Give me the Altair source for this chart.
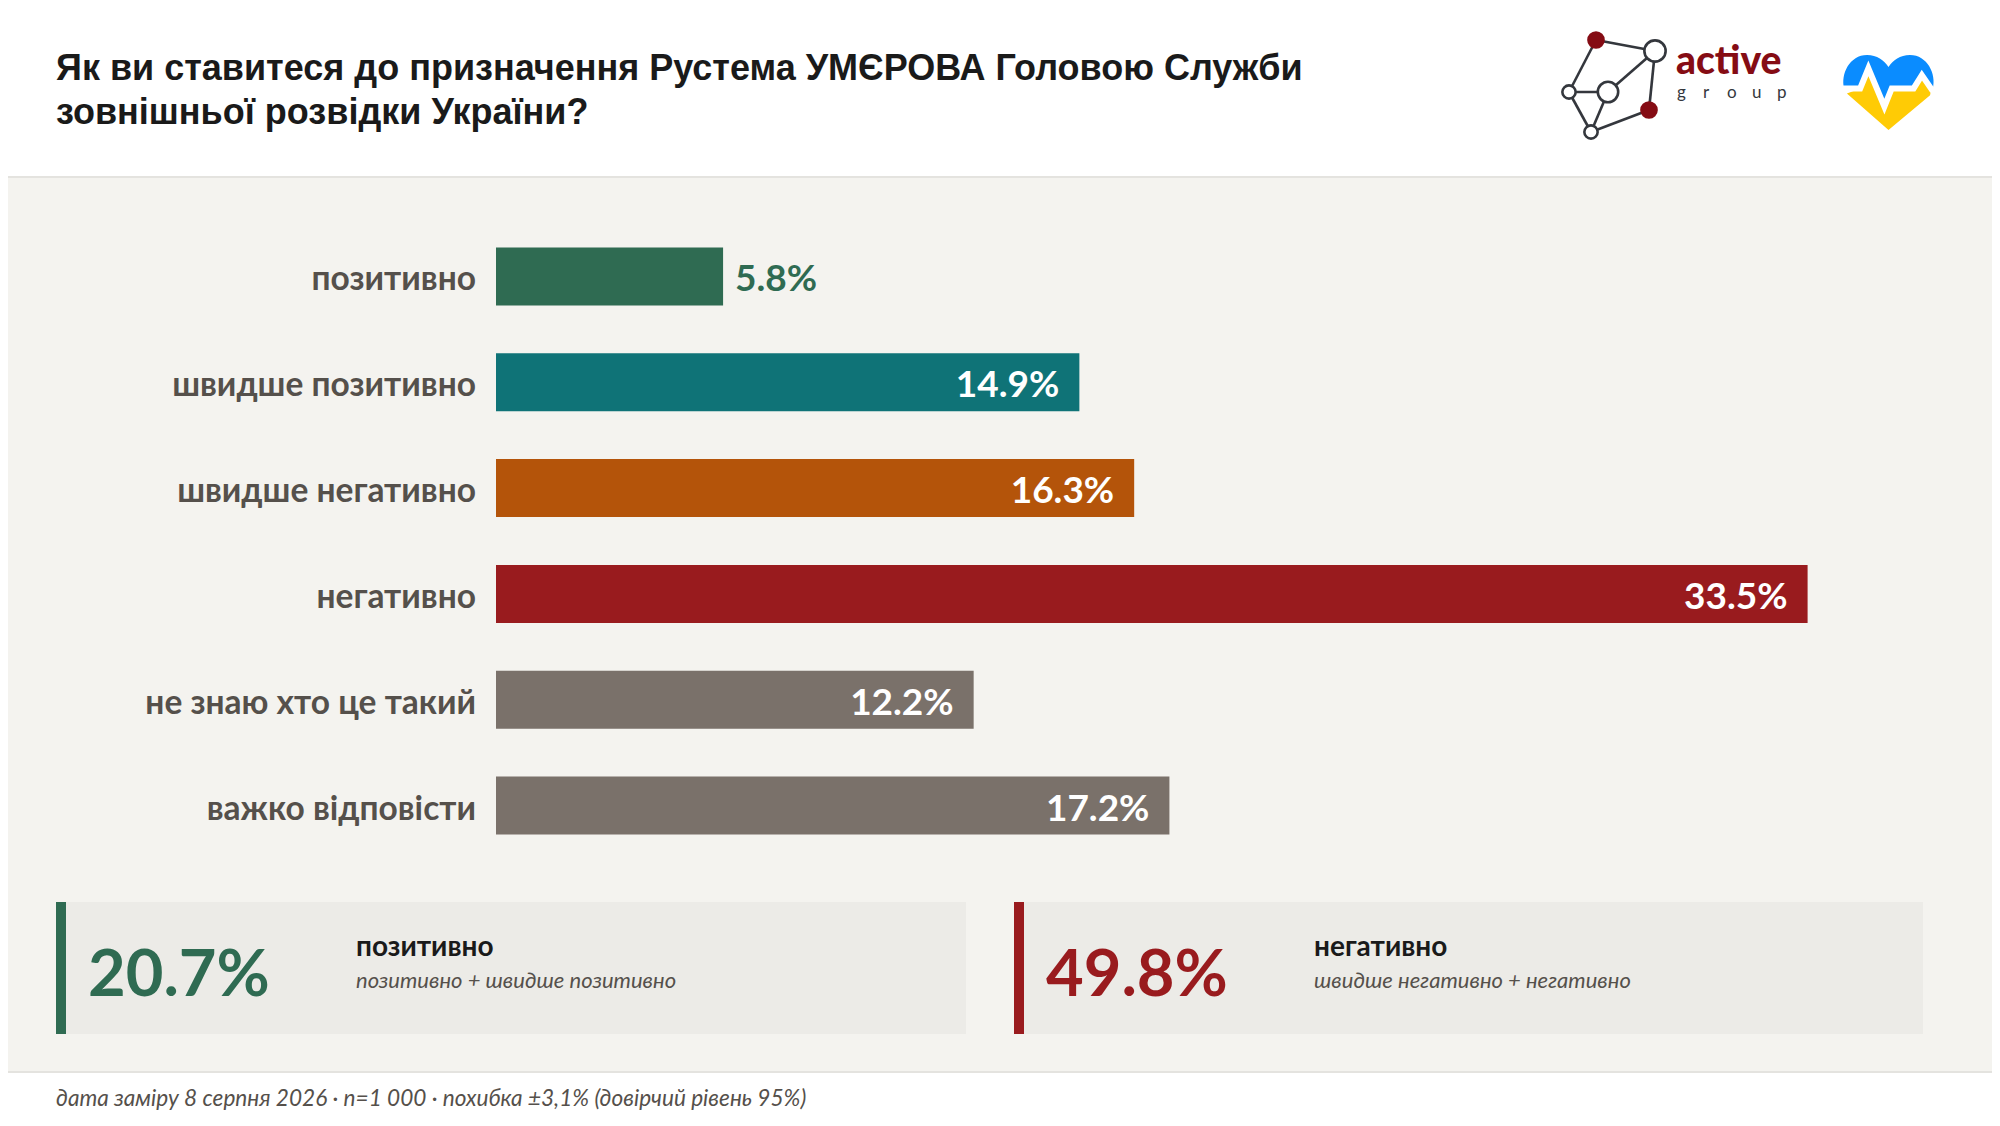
import altair as alt
import pandas as pd

TITLE_LINES = ["Як ви ставитеся до призначення Рустема УМЄРОВА Головою Служби", "зовнішньої розвідки України?"]
CATEGORIES = ["позитивно", "швидше позитивно", "швидше негативно", "негативно", "не знаю хто це такий", "важко відповісти"]
VALUES = [5.8, 14.9, 16.3, 33.5, 12.2, 17.2]
BAR_COLORS = ["#2f6b52", "#0f7377", "#b4540a", "#991b1e", "#7a716a", "#7a716a"]
SUMMARY_VALUES = ["20.7%", "49.8%"]
SUMMARY_HEADS = ["позитивно", "негативно"]
SUMMARY_SUBS = ["позитивно + швидше позитивно", "швидше негативно + негативно"]
FOOTNOTE = "дата заміру 8 серпня 2026 · n=1 000 · похибка ±3,1% (довірчий рівень 95%)"

OX, OY = 8, 8  # page margin
SANS = "Lato"


def px(v):
    return alt.value(v - OX)


def py(v):
    return alt.value(v - OY)


def rect(x0, x1, y0, y1, color):
    return alt.Chart().mark_rect(color=color).encode(x=px(x0), x2=px(x1), y=py(y0), y2=py(y1))


def text(s, x, y, size, color, font=SANS, weight="normal", style="normal", align="left"):
    return alt.Chart().mark_text(
        font=font, fontSize=size, fontWeight=weight, fontStyle=style, color=color,
        align=align, baseline="alphabetic",
    ).encode(x=px(x), y=py(y), text=alt.value(s))


def edge(a, b):
    return alt.Chart().mark_rule(color="#34373d", strokeWidth=2.6).encode(
        x=px(a[0]), x2=px(b[0]), y=py(a[1]), y2=py(b[1]))


def node(p, r, fill):
    return alt.Chart().mark_point(
        filled=True, shape="circle", fill=fill, size=3.1416 * r * r,
        stroke="#34373d" if fill == "#ffffff" else fill, strokeWidth=2.6, opacity=1,
    ).encode(x=px(p[0]), y=py(p[1]))


def sym(path, size, cx, cy, **kw):
    return alt.Chart().mark_point(shape=path, size=size, opacity=1, **kw).encode(x=px(cx), y=py(cy))


layers = [
    rect(8, 1992, 176, 1071, "#f4f3ef"),
    rect(8, 1992, 176, 178, "#e4e3df"),
    rect(8, 1992, 1071, 1073, "#e4e3df"),
    text(TITLE_LINES[0], 56, 80, 36, "#1a1a1a", font="Liberation Sans", weight="bold"),
    text(TITLE_LINES[1], 56, 124, 36, "#1a1a1a", font="Liberation Sans", weight="bold"),
]

# logo
A, B, C, D, E, F = (1596, 40), (1655, 51), (1569, 92), (1608, 92), (1649, 110), (1591, 132)
for a, b in [(A, B), (A, C), (B, D), (B, E), (C, D), (C, F), (D, F), (E, F)]:
    layers.append(edge(a, b))
for p, r, fill in [(A, 8.5, "#850c14"), (B, 12, "#ffffff"), (C, 7.5, "#ffffff"), (D, 11.5, "#ffffff"),
                   (E, 8.5, "#850c14"), (F, 7.5, "#ffffff")]:
    layers.append(node(p, r, fill))
layers.append(text("active", 1676, 74, 39, "#850c14", weight=900))
for ch, lx in zip("group", [1677, 1703, 1727, 1752, 1777]):
    layers.append(text(ch, lx, 98, 17, "#34373d"))

# heart
HEART_TOP = ("M-0.97,-0.09 C-1.05,-0.4 -0.85,-0.82 -0.47,-0.82 C-0.25,-0.82 -0.1,-0.7 0,-0.56 "
             "C0.1,-0.7 0.25,-0.82 0.47,-0.82 C0.85,-0.82 1.05,-0.4 0.97,-0.09 L0.95,-0.09 L0.73,-0.38 "
             "L0.55,-0.09 L0.07,-0.09 L-0.09,0.31 L-0.44,-0.53 L-0.62,-0.09 Z")
HEART_BOTTOM = ("M-0.91,0.02 L-0.62,-0.09 L-0.44,-0.53 L-0.09,0.31 L0.07,-0.09 L0.55,-0.09 L0.73,-0.38 "
                "L0.93,-0.05 L0.91,0.06 L0,0.82 Z")
PULSE = "M-1,-0.09 L-0.62,-0.09 L-0.44,-0.53 L-0.09,0.31 L0.07,-0.09 L0.55,-0.09 L0.73,-0.38 L0.97,-0.03"
H_SIZE = 91.4 ** 2
layers += [
    sym(HEART_TOP, H_SIZE, 1888.5, 92.5, filled=True, fill="#0a8cff", strokeWidth=0),
    sym(HEART_BOTTOM, H_SIZE, 1888.5, 92.5, filled=True, fill="#ffcb05", strokeWidth=0),
    sym(PULSE, H_SIZE, 1888.5, 92.5, filled=False, stroke="#ffffff", strokeWidth=6, fill="transparent"),
]

# bars
df = pd.DataFrame({"cat": CATEGORIES, "value": VALUES, "color": BAR_COLORS})
df["label"] = [f"{v:.1f}%" for v in VALUES]
y = alt.Y("cat:N", sort=CATEGORIES, axis=None,
          scale=alt.Scale(domain=CATEGORIES, range=[239.5, 826.5], paddingInner=0.452, paddingOuter=0))
x = alt.X("value:Q", axis=None, scale=alt.Scale(domain=[0, 33.5], range=[488, 1799.6]))

bars = alt.Chart(df).mark_bar(cornerRadius=0).encode(
    x=x, y=y, color=alt.Color("color:N", scale=None, legend=None))
cat_labels = alt.Chart(df).mark_text(
    font=SANS, fontWeight="bold", fontSize=33.5, color="#55504b", align="right", baseline="middle", dy=4,
).encode(x=px(476), y=y, text="cat:N")
outside = alt.Chart(df[df["value"] < 10]).mark_text(
    font=SANS, fontWeight="bold", fontSize=37, color="#2f6b52", align="left", baseline="middle", dx=12, dy=4,
).encode(x=x, y=y, text="label:N")
inside = alt.Chart(df[df["value"] >= 10]).mark_text(
    font=SANS, fontWeight="bold", fontSize=37, color="#ffffff", align="right", baseline="middle", dx=-20, dy=4,
).encode(x=x, y=y, text="label:N")
layers += [bars, cat_labels, outside, inside]

# summary boxes
for i, (x0, x1, col) in enumerate([(56, 966, "#2f6b52"), (1014, 1923, "#991b1e")]):
    layers += [
        rect(x0, x1, 902, 1034, "#ecebe7"),
        rect(x0, x0 + 10, 902, 1034, col),
        text(SUMMARY_VALUES[i], x0 + 32, 996, 65, col, weight="bold"),
        text(SUMMARY_HEADS[i], x0 + 300, 956, 28, "#1a1a1a", weight="bold"),
        text(SUMMARY_SUBS[i], x0 + 300, 988, 22, "#55504b", style="italic"),
    ]

layers.append(text(FOOTNOTE, 56, 1106, 22.6, "#55504b", style="italic"))

chart = alt.layer(*layers).properties(
    width=1984, height=1110, padding=0, autosize=alt.AutoSizeParams(type="none"), background="#ffffff"
).configure_view(stroke=None)

chart.save("out.html", embed_options={"renderer": "svg", "actions": False})
